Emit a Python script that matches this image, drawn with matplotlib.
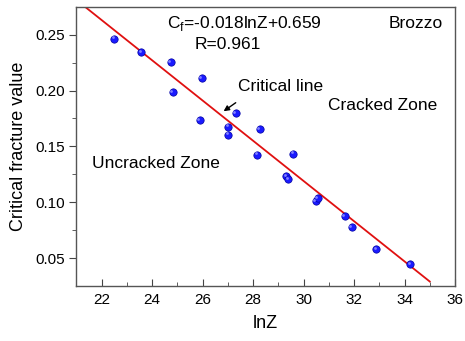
import numpy as np
import matplotlib
matplotlib.use("Agg")
import matplotlib.pyplot as plt

plt.rcParams['font.family'] = ['Liberation Sans', 'DejaVu Sans']
plt.rcParams['mathtext.fontset'] = 'custom'
plt.rcParams['mathtext.rm'] = 'Liberation Sans'

# measured points (lnZ, critical fracture value)
lnz = [22.49, 23.56, 24.73, 24.81, 25.96, 25.88, 27.31, 27.02, 27.02, 28.26,
       28.16, 29.59, 29.32, 29.40, 30.48, 30.57, 31.63, 31.90, 32.87, 34.22]
cf = [0.2464, 0.2345, 0.2256, 0.1985, 0.2113, 0.1735, 0.1795, 0.1676, 0.1605, 0.1652,
      0.1426, 0.1436, 0.1235, 0.1208, 0.1012, 0.1036, 0.0875, 0.0777, 0.0580, 0.0444]

# fitted critical line
slope = -0.018
intercept = 0.659
line_x = np.array([21, 35])

fig = plt.figure(figsize=(4.65, 3.41), dpi=100)
ax = fig.add_axes([0.1645, 0.1613, 0.814, 0.819])

ax.plot(line_x, slope * line_x + intercept, color='#e01010', linewidth=1.3, zorder=2)
ax.scatter(lnz, cf, s=28, color='#1a1aff', edgecolors='#0000a0', linewidths=0.5, zorder=3)
# little highlight on the spheres
ax.scatter(np.array(lnz) - 0.06, np.array(cf) + 0.0012, s=4, color='#8080ff',
           linewidths=0, zorder=4)

ax.set_xlim(21, 36)
ax.set_ylim(0.025, 0.275)
ax.set_xticks(np.arange(22, 37, 2))
ax.set_xticks(np.arange(21, 36, 1), minor=True)
ax.set_yticks([0.05, 0.10, 0.15, 0.20, 0.25])
ax.set_yticks(np.arange(0.075, 0.275, 0.05), minor=True)
ax.tick_params(axis='x', which='both', direction='in', top=False, labelsize=11, pad=5)
ax.tick_params(axis='y', which='both', direction='out', right=False, labelsize=11)
ax.tick_params(which='major', length=5, color='#444444')
ax.tick_params(which='minor', length=3, color='#444444')
for sp in ax.spines.values():
    sp.set_color('#555555')
    sp.set_linewidth(1.0)

ax.set_xlabel('lnZ', fontsize=13, labelpad=6)
ax.set_ylabel('Critical fracture value', fontsize=13, labelpad=6)

fs = 12.5
ax.text(0.239, 0.94, r'C$_\mathrm{f}$=-0.018lnZ+0.659', transform=ax.transAxes,
        fontsize=fs, va='center', ha='left')
ax.text(0.313, 0.863, 'R=0.961', transform=ax.transAxes, fontsize=fs, va='center')
ax.text(0.968, 0.94, 'Brozzo', transform=ax.transAxes, fontsize=fs, va='center', ha='right')
ax.text(0.427, 0.716, 'Critical line', transform=ax.transAxes, fontsize=fs, va='center')
ax.text(0.664, 0.648, 'Cracked Zone', transform=ax.transAxes, fontsize=fs, va='center')
ax.text(0.041, 0.437, 'Uncracked Zone', transform=ax.transAxes, fontsize=fs, va='center')

ax.annotate('', xy=(26.74, 0.180), xytext=(27.40, 0.1905),
            arrowprops=dict(arrowstyle='-|>', color='black', lw=1.0, mutation_scale=8))

fig.savefig('out.png', dpi=100)
